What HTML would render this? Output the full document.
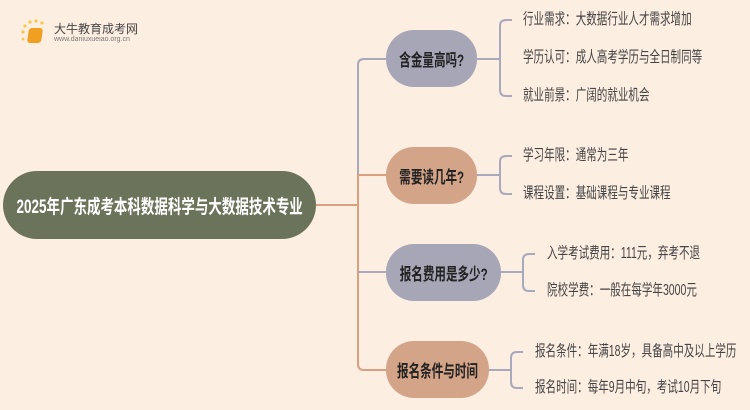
<!DOCTYPE html>
<html><head><meta charset="utf-8"><style>
body{margin:0;width:750px;height:410px;background:#fdeee2;overflow:hidden;position:relative;font-family:"Liberation Sans","Noto Sans CJK SC",sans-serif}
.n{position:absolute;display:flex;align-items:center;justify-content:center;font-weight:bold;color:#222;font-size:17px;border-radius:28px;white-space:nowrap}
.n span{display:inline-block;transform:scaleX(0.68)}
.t{position:absolute;font-size:15.5px;color:#444;white-space:nowrap;line-height:18px;transform:scaleX(0.68);transform-origin:0 50%}
svg{position:absolute;left:0;top:0}
</style></head><body>
<svg width="750" height="410" fill="none" stroke-width="2">
<path d="M316 205H358" stroke="#d8a080"/>
<path d="M386 59H364Q358 59 358 65V175" stroke="#a9a9bd"/>
<path d="M386 175H358V364Q358 370 364 370H386" stroke="#d8a080"/>
<path d="M386 272H358" stroke="#a9a9bd"/>
<g stroke="#a9a9bd">
<path d="M477 59H500M512 20H506Q500 20 500 26V90Q500 96 506 96H512"/>
<path d="M477 175H500M512 156H506Q500 156 500 162V188Q500 194 506 194H512"/>
<path d="M501 272H523M535 254H529Q523 254 523 260V285Q523 291 529 291H535"/>
<path d="M489 370H511M523 352H517Q511 352 511 358V382Q511 388 517 388H523"/>
</g>
<g fill="#f7c84a" stroke="none"><circle cx="23" cy="32" r="1.6"/><circle cx="25" cy="26" r="1.6"/><circle cx="30" cy="22" r="1.6"/><circle cx="36" cy="21" r="1.6"/><circle cx="42" cy="23" r="1.6"/><circle cx="23" cy="39" r="1.4"/></g>
</svg>
<div style="position:absolute;left:28px;top:28px;width:14px;height:15px;background:#f0a020;border-radius:3px;transform:skew(-8deg)"></div>
<div style="position:absolute;left:54px;top:20px;font-size:12px;color:#444">大牛教育成考网</div>
<div style="position:absolute;left:54px;top:36px;font-size:7px;color:#777">www.daniuxueiao.org.cn</div>
<div class="n" style="left:3px;top:171px;width:313px;height:68px;background:#6b735a;color:#fff;border-radius:34px;font-size:19px"><span style="transform:scaleX(0.71)">2025年广东成考本科数据科学与大数据技术专业</span></div>
<div class="n" style="left:386px;top:30px;width:91px;height:57px;background:#a6a6b6"><span>含金量高吗?</span></div>
<div class="n" style="left:386px;top:147px;width:91px;height:57px;background:#d4a488"><span>需要读几年?</span></div>
<div class="n" style="left:386px;top:244px;width:115px;height:57px;background:#a6a6b6"><span>报名费用是多少?</span></div>
<div class="n" style="left:386px;top:341px;width:103px;height:57px;background:#d4a488"><span>报名条件与时间</span></div>
<div class="t" style="left:523px;top:11px">行业需求：大数据行业人才需求增加</div>
<div class="t" style="left:523px;top:49px">学历认可：成人高考学历与全日制同等</div>
<div class="t" style="left:523px;top:87px">就业前景：广阔的就业机会</div>
<div class="t" style="left:523px;top:147px">学习年限：通常为三年</div>
<div class="t" style="left:523px;top:185px">课程设置：基础课程与专业课程</div>
<div class="t" style="left:547px;top:245px">入学考试费用：111元，弃考不退</div>
<div class="t" style="left:547px;top:282px">院校学费：一般在每学年3000元</div>
<div class="t" style="left:535px;top:343px">报名条件：年满18岁，具备高中及以上学历</div>
<div class="t" style="left:535px;top:379px">报名时间：每年9月中旬，考试10月下旬</div>
</body></html>
